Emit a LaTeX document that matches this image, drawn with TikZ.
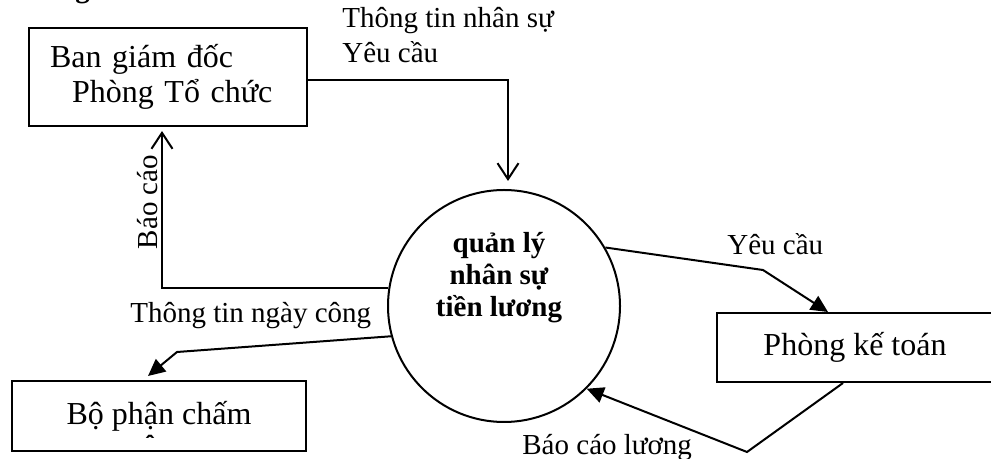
\documentclass[tikz,border=0pt]{standalone}
\usepackage{fontspec}
\setmainfont{Liberation Serif}
\usetikzlibrary{arrows.meta,calc}

\begin{document}
\begin{tikzpicture}[
  x=0.5pt, y=-0.5pt,
  box/.style={draw,line width=1pt,font=\fontsize{16}{17.5}\selectfont,inner sep=0pt},
  lbl/.style={font=\fontsize{14.5}{17.5}\selectfont,inner sep=0pt},
  arr/.style={-{Triangle[length=8.5pt,width=8pt]},line width=1pt},
  barb/.style={-{Straight Barb[length=8pt,width=10.5pt]},line width=1pt}
]
\useasboundingbox (0,0) rectangle (991,459);
\clip (0,0) rectangle (991,459);

\node[lbl,font=\fontsize{14.5}{17.5}\selectfont\bfseries,anchor=base west] (hdg) at (75,-2) {g};

\node[box,minimum height=49pt,text width=118pt,inner xsep=10.5pt,align=left] (bgd) at (168,77) {Ban giám đốc\\\hspace*{11pt}Phòng Tổ chức};
\node[box,minimum width=147pt,minimum height=35pt] (bpc) at (159,416) {Bộ phận chấm};
\node[box,minimum width=138pt,minimum height=34.5pt] (pkt) at (855,347.5) {Phòng kế toán};
\node[draw,circle,line width=1pt,minimum size=116pt,inner sep=0pt] (qly) at (504,306) {};
\node[align=center,font=\fontsize{14.5}{16}\selectfont\bfseries,inner sep=0pt] (qlytext) at (499,278) {quản lý\\nhân sự\\tiền lương};

\begin{scope}
\clip (bpc.north west) rectangle ([yshift=7pt]bpc.south east);
\node[box,draw=none,anchor=base] (cong) at (159,458) {công};
\end{scope}

\coordinate (c1) at (177,352);
\coordinate (c2) at (763,270);
\coordinate (c3) at (747,452);

\draw[barb] ([yshift=-1.5pt]bgd.east) -| ([xshift=2pt,yshift=4pt]qly.north);
\draw[barb] (qly.171.6) -| ([xshift=-3pt,yshift=-2pt]bgd.south);
\draw[arr] (qly.195.5) -- (c1) -- ([xshift=-5.5pt,yshift=2pt]bpc.north);
\draw[arr] (qly.30.6) -- (c2) -- ([xshift=-13.5pt]pkt.north);
\draw[arr] ([xshift=-6pt]pkt.south) -- (c3) -- (qly.-45.3);

\node[lbl,anchor=base west,align=left] (ttns) at (342,63) {Thông tin nhân sự\\Yêu cầu};
\node[lbl,rotate=90] (bc) at (148,202) {Báo cáo};
\node[lbl,anchor=base west] (ttnc) at (130,323) {Thông tin ngày công};
\node[lbl,anchor=base west] (yc) at (727,255) {Yêu cầu};
\node[lbl,anchor=base west] (bcl) at (522,455) {Báo cáo lương};
\end{tikzpicture}
\end{document}
